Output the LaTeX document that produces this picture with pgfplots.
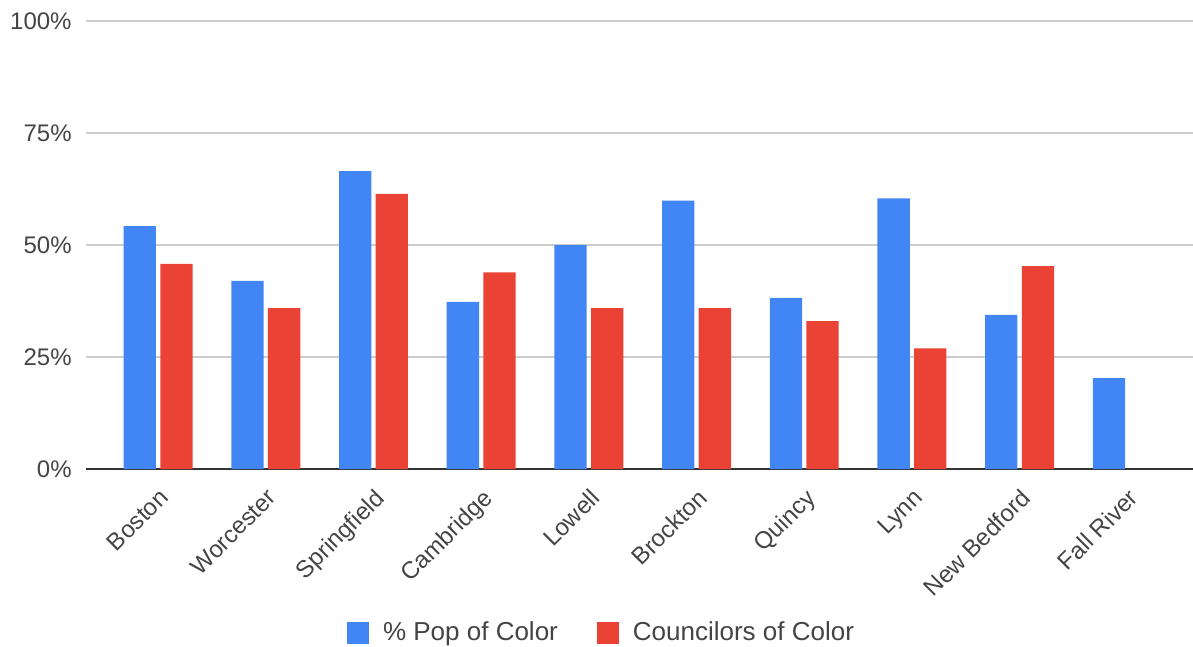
\documentclass[border=0pt]{standalone}
\usepackage{pgfplots}
\pgfplotsset{compat=1.18}
\usepackage{fontspec}
\setmainfont{Liberation Sans}
\definecolor{gblue}{HTML}{4285F4}
\definecolor{gred}{HTML}{EA4335}
\definecolor{glabel}{HTML}{444444}
\definecolor{ggrid}{HTML}{CCCCCC}
\begin{document}
\begin{tikzpicture}
\begin{axis}[
  scale only axis,
  width=553.5pt, height=224pt,
  ymin=0, ymax=100,
  xmin=-0.67, xmax=9.61,
  ytick={0,25,50,75,100},
  yticklabel={\pgfmathprintnumber{\tick}\%},
  /pgf/number format/assume math mode=true,
  xtick={0,1,2,3,4,5,6,7,8,9},
  xticklabels={Boston,Worcester,Springfield,Cambridge,Lowell,Brockton,Quincy,Lynn,New Bedford,Fall River},
  xticklabel style={yshift=-9pt, xshift=0pt, rotate=45, anchor=north east, inner sep=0pt, font=\fontsize{12}{14}\selectfont, text=glabel},
  yticklabel style={font=\fontsize{12}{14}\selectfont, text=glabel, inner sep=0pt, xshift=-7pt},
  major tick length=0pt,
  ymajorgrids, grid style={ggrid, line width=0.6pt},
  axis x line*=bottom, axis y line*=left,
  y axis line style={draw=none},
  x axis line style={draw=black!80, line width=0.8pt, -},
  ybar, bar width=0.3,
  legend style={at={(0.4666,-0.366)}, anchor=center, legend columns=2, draw=none,
    font=\fontsize{13}{15}\selectfont, text=glabel,
    /tikz/every odd column/.append style={column sep=5pt},
    /tikz/every even column/.append style={column sep=17.5pt}},
  legend image code/.code={\fill[#1] (0pt,-5.5pt) rectangle (11pt,5.5pt);},
  clip=false,
]
\addplot[fill=gblue, draw=none, bar shift=-0.17] coordinates {
 (0,54.2) (1,42.0) (2,66.5) (3,37.3) (4,50.0) (5,59.9) (6,38.2) (7,60.4) (8,34.4) (9,20.3)};
\addlegendentry{\% Pop of Color}
\addplot[fill=gred, draw=none, bar shift=0.17] coordinates {
 (0,45.8) (1,35.9) (2,61.4) (3,43.9) (4,35.9) (5,35.9) (6,33.0) (7,26.9) (8,45.3)};
\addlegendentry{Councilors of Color}
\end{axis}
\pgfresetboundingbox
\path ([xshift=-43pt,yshift=-89pt]current axis.south west) rectangle ([yshift=10.5pt]current axis.north east);
\end{tikzpicture}
\end{document}
